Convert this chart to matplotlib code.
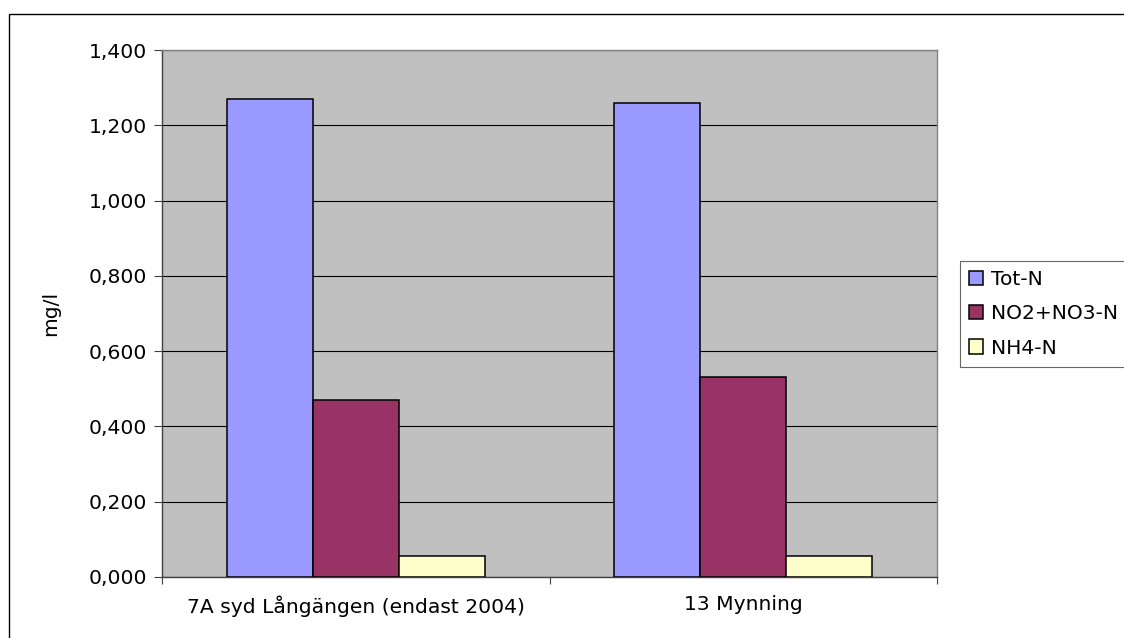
import matplotlib
matplotlib.use("Agg")
import matplotlib.pyplot as plt
import numpy as np
from matplotlib.patches import Rectangle
from matplotlib.ticker import FixedLocator, FuncFormatter

plt.rcParams['font.family'] = ['DejaVu Sans']

stations = ["7A syd Långängen (endast 2004)", "13 Mynning"]
series_names = ["Tot-N", "NO2+NO3-N", "NH4-N"]
tot_n = [1.27, 1.26]
no2_no3_n = [0.47, 0.53]
nh4_n = [0.055, 0.055]
y_ticks = [0.0, 0.2, 0.4, 0.6, 0.8, 1.0, 1.2, 1.4]
ylabel = "mg/l"

colors = ["#9999FF", "#993366", "#FFFFCC"]
values = [tot_n, no2_no3_n, nh4_n]
fs = 14.6

fig = plt.figure(figsize=(11.24, 6.38), dpi=100)
fig.patch.set_facecolor("white")

# outer chart frame
fig.add_artist(Rectangle((9 / 1124, -0.05), 1.2, (638 - 14) / 638 + 0.05,
                         transform=fig.transFigure, fill=False,
                         edgecolor="black", linewidth=1.0))

ax = fig.add_axes([162 / 1124, (638 - 577) / 638, (937 - 162) / 1124, (577 - 50) / 638])
ax.set_facecolor("#C0C0C0")

x = np.arange(len(stations))
width = 2 / 9
for i, (name, vals, c) in enumerate(zip(series_names, values, colors)):
    ax.bar(x + (i - 1) * width, vals, width, color=c, edgecolor="black",
           linewidth=1.1, label=name, zorder=3)

ax.set_xlim(-0.5, len(stations) - 0.5)
ax.set_ylim(0, 1.4)
ax.yaxis.set_major_locator(FixedLocator(y_ticks))
ax.yaxis.set_major_formatter(FuncFormatter(lambda v, p: f"{v:.3f}".replace(".", ",")))
ax.grid(axis="y", color="black", linewidth=0.8, zorder=1)
ax.set_axisbelow(True)

ax.set_xticks(x)
ax.set_xticklabels(stations)
ax.xaxis.set_minor_locator(FixedLocator(np.arange(-0.5, len(stations), 1.0)))
ax.tick_params(axis="x", which="major", length=0, pad=13, labelsize=fs)
ax.tick_params(axis="x", which="minor", length=5, color="#404040", width=0.8)
ax.tick_params(axis="y", length=6, color="#404040", width=0.8, pad=5, labelsize=fs)

for side in ["top", "right"]:
    ax.spines[side].set_color("#808080")
    ax.spines[side].set_linewidth(1.0)
for side in ["left", "bottom"]:
    ax.spines[side].set_color("#404040")
    ax.spines[side].set_linewidth(1.0)

ax.set_ylabel(ylabel, fontsize=fs, labelpad=20)

leg = fig.legend(loc="upper left", bbox_to_anchor=(960 / 1124, (638 - 261) / 638),
                 frameon=True, fancybox=False, fontsize=fs,
                 handlelength=0.7, handleheight=0.7, handletextpad=0.4,
                 borderpad=0.45, labelspacing=0.75, borderaxespad=0)
leg.get_frame().set_edgecolor("#404040")
leg.get_frame().set_linewidth(0.8)

fig.savefig("out.png", dpi=100)
